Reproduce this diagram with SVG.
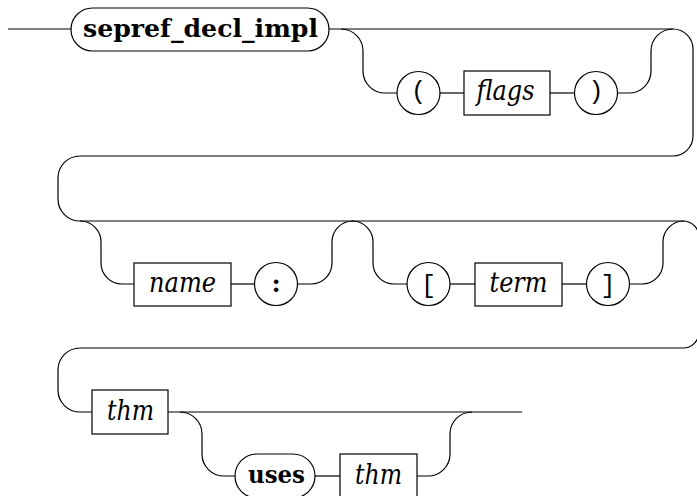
<svg xmlns="http://www.w3.org/2000/svg" width="697" height="496" viewBox="0 0 697 496">
<style>
.ln{fill:none;stroke:#000;stroke-width:1.2}
.bx{fill:#fff;stroke:#000;stroke-width:1.2}
.kw{font-family:"DejaVu Serif","Liberation Serif",serif;font-weight:bold;font-size:25px;text-anchor:middle}
.nt{font-family:"DejaVu Serif","Liberation Serif",serif;font-style:italic;font-size:27px;text-anchor:middle}
.tt{font-family:"Liberation Mono","DejaVu Sans Mono",monospace;font-size:25px;text-anchor:middle}
</style>
<rect width="697" height="496" fill="#fff"/>
<g id="connectors" class="ln">
<path d="M8,29 H71"/>
<path d="M329,29 H673 A20,20 0 0 1 693,49 V136 A20,20 0 0 1 673,156 H80 A22,22 0 0 0 58,178 V199 A22,22 0 0 0 80,221 H683 A16,16 0 0 1 699,237 V332 A16,16 0 0 1 683,348 H80 A22,22 0 0 0 58,370 V390 A22,22 0 0 0 80,412 H92"/>
<path d="M341,29 A22,22 0 0 1 363,51 V71 A22,22 0 0 0 385,93 H397"/>
<path d="M440,93 H464"/>
<path d="M550,93 H575"/>
<path d="M617,93 H629 A22,22 0 0 0 651,71 V51 A22,22 0 0 1 673,29"/>
<path d="M80,221 A21,21 0 0 1 101,242 V263 A21,21 0 0 0 122,284 H134"/>
<path d="M231,284 H255"/>
<path d="M297,284 H311 A21,21 0 0 0 332,263 V242 A21,21 0 0 1 353,221"/>
<path d="M352,221 A21,21 0 0 1 373,242 V263 A21,21 0 0 0 394,284 H407"/>
<path d="M450,284 H475"/>
<path d="M562,284 H587"/>
<path d="M629,284 H642 A21,21 0 0 0 663,263 V242 A21,21 0 0 1 684,221"/>
<path d="M168,412 H522"/>
<path d="M180,412 A22,22 0 0 1 202,434 V454 A22,22 0 0 0 224,476 H235"/>
<path d="M315,476 H340"/>
<path d="M417,476 H428 A22,22 0 0 0 450,454 V434 A22,22 0 0 1 472,412"/>
</g>
<g id="sepref_decl_impl">
<rect class="bx" x="71" y="8" width="258" height="43" rx="21.5"/>
<text class="kw" x="200.5" y="37" textLength="235" lengthAdjust="spacingAndGlyphs">sepref_decl_impl</text>
</g>
<g id="lparen">
<circle class="bx" cx="418.5" cy="93" r="21.5"/>
<text class="tt" x="418.5" y="99">(</text>
</g>
<g id="flags">
<rect class="bx" x="464" y="71" width="86" height="44"/>
<text class="nt" x="505.5" y="100" textLength="58" lengthAdjust="spacingAndGlyphs">flags</text>
</g>
<g id="rparen">
<circle class="bx" cx="596" cy="93" r="21.5"/>
<text class="tt" x="596" y="99">)</text>
</g>
<g id="name">
<rect class="bx" x="134" y="263" width="97" height="43"/>
<text class="nt" x="182.5" y="292" textLength="67" lengthAdjust="spacingAndGlyphs">name</text>
</g>
<g id="colon">
<circle class="bx" cx="276" cy="284" r="21.5"/>
<text class="kw" x="276" y="292">:</text>
</g>
<g id="lbrack">
<circle class="bx" cx="428.5" cy="284" r="21.5"/>
<text class="tt" x="428.5" y="293">[</text>
</g>
<g id="term">
<rect class="bx" x="475" y="263" width="87" height="43"/>
<text class="nt" x="518.5" y="292" textLength="58" lengthAdjust="spacingAndGlyphs">term</text>
</g>
<g id="rbrack">
<circle class="bx" cx="608" cy="284" r="21.5"/>
<text class="tt" x="608" y="293">]</text>
</g>
<g id="thm1">
<rect class="bx" x="92" y="390" width="76" height="44"/>
<text class="nt" x="130.5" y="420" textLength="47" lengthAdjust="spacingAndGlyphs">thm</text>
</g>
<g id="uses">
<rect class="bx" x="235" y="454" width="80" height="44" rx="22"/>
<text class="kw" x="276.5" y="483" textLength="57" lengthAdjust="spacingAndGlyphs">uses</text>
</g>
<g id="thm2">
<rect class="bx" x="340" y="454" width="77" height="44"/>
<text class="nt" x="378.5" y="484" textLength="47" lengthAdjust="spacingAndGlyphs">thm</text>
</g>
</svg>
